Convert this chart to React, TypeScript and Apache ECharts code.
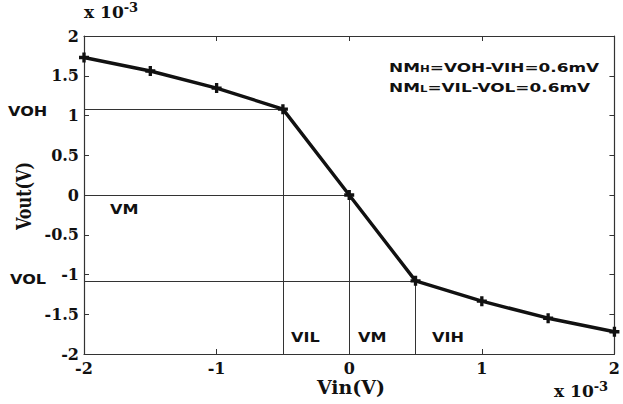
import React, { useEffect, useRef } from "react";
import * as echarts from "echarts";

// Input voltage (×10⁻³ V) and inverter output voltage (×10⁻³ V)
const vin = [-2, -1.5, -1, -0.5, 0, 0.5, 1, 1.5, 2];
const vout = [1.73, 1.56, 1.345, 1.08, 0, -1.08, -1.335, -1.55, -1.72];

// Characteristic points of the transfer curve
const VIL = -0.5;
const VIH = 0.5;
const VM = 0;
const VOH = 1.08;
const VOL = -1.08;
const XMIN = -2;
const YMIN = -2;

const SERIF = "'DejaVu Serif', 'Liberation Serif', serif";
const SANS = "'DejaVu Sans', Verdana, sans-serif";

const plus = "path://M3 0h3v3h3v3h-3v3h-3v-3h-3v-3h3z";

export default function App() {
  const ref = useRef<HTMLDivElement>(null);

  useEffect(() => {
    if (!ref.current) return;
    const chart = echarts.init(ref.current, null, { renderer: "svg" });
    const axisLine = { show: true, onZero: false, lineStyle: { color: "#333", width: 1.2 } };
    const tickIn = { show: true, inside: true, length: 5, lineStyle: { color: "#333" } };
    const tickLabel = {
      color: "#111",
      fontFamily: SERIF,
      fontWeight: "bold" as const,
      fontSize: 16,
    };
    const guide = { color: "#333", width: 1, type: "solid" as const };
    const expRich = {
      s: { fontSize: 13, fontFamily: SERIF, fontWeight: "bold", padding: [0, 0, 9, 0] },
    };

    chart.setOption({
      animation: false,
      backgroundColor: "#fff",
      grid: { left: 84, right: 2, top: 36, bottom: 50 },
      xAxis: [
        {
          type: "value",
          min: -2,
          max: 2,
          interval: 1,
          position: "bottom",
          axisLine,
          axisTick: tickIn,
          splitLine: { show: false },
          axisLabel: { ...tickLabel, margin: 6, formatter: (v: number) => String(v) },
        },
        {
          type: "value",
          min: -2,
          max: 2,
          interval: 1,
          position: "top",
          axisLine,
          axisTick: tickIn,
          splitLine: { show: false },
          axisLabel: { show: false },
        },
      ],
      yAxis: [
        {
          type: "value",
          min: -2,
          max: 2,
          interval: 0.5,
          position: "left",
          axisLine,
          axisTick: tickIn,
          splitLine: { show: false },
          axisLabel: { ...tickLabel, margin: 5, formatter: (v: number) => String(v) },
        },
        {
          type: "value",
          min: -2,
          max: 2,
          interval: 0.5,
          position: "right",
          axisLine,
          axisTick: tickIn,
          splitLine: { show: false },
          axisLabel: { show: false },
        },
      ],
      series: [
        {
          type: "line",
          data: vin.map((x, i) => [x, vout[i]]),
          symbol: plus,
          symbolSize: 10,
          showAllSymbol: true,
          itemStyle: { color: "#111" },
          lineStyle: { color: "#111", width: 3.4 },
          z: 5,
          markLine: {
            silent: true,
            symbol: "none",
            label: { show: false },
            lineStyle: guide,
            data: [
              [{ coord: [XMIN, VOH] }, { coord: [VIL, VOH] }],
              [{ coord: [XMIN, VM] }, { coord: [VM, VM] }],
              [{ coord: [XMIN, VOL] }, { coord: [VIH, VOL] }],
              [{ coord: [VIL, VOH] }, { coord: [VIL, YMIN] }],
              [{ coord: [VM, VM] }, { coord: [VM, YMIN] }],
              [{ coord: [VIH, VOL] }, { coord: [VIH, YMIN] }],
            ],
          },
        },
      ],
      graphic: [
        // scale factors on the axes
        {
          type: "text",
          left: 84,
          top: 1,
          style: { text: "x 10{s|-3}", rich: expRich, font: `bold 17px ${SERIF}`, fill: "#111" },
        },
        {
          type: "text",
          left: 554,
          top: 380,
          style: { text: "x 10{s|-3}", rich: expRich, font: `bold 17px ${SERIF}`, fill: "#111" },
        },
        // axis titles
        {
          type: "text",
          x: 351,
          y: 387,
          style: {
            text: "Vin(V)",
            font: `bold 19px ${SERIF}`,
            fill: "#111",
            align: "center",
            verticalAlign: "middle",
          },
        },
        {
          type: "text",
          x: 24,
          y: 196,
          rotation: Math.PI / 2,
          scaleX: 0.8,
          style: {
            text: "Vout(V)",
            font: `bold 20px ${SERIF}`,
            fill: "#111",
            align: "center",
            verticalAlign: "middle",
          },
        },
        // characteristic voltage labels
        ...[
          { t: "VOH", x: 8, y: 104 },
          { t: "VOL", x: 10, y: 272 },
          { t: "VM", x: 110, y: 202 },
          { t: "VIL", x: 291, y: 330 },
          { t: "VM", x: 358, y: 330 },
          { t: "VIH", x: 432, y: 330 },
        ].map((l) => ({
          type: "text",
          x: l.x,
          y: l.y,
          scaleX: 1.15,
          style: { text: l.t, font: `bold 14px ${SANS}`, fill: "#111" },
        })),
        // noise margins
        ...[
          { main: "NM", sub: "H", rest: "=VOH-VIH=0.6mV", y: 61 },
          { main: "NM", sub: "L", rest: "=VIL-VOL=0.6mV", y: 81 },
        ].map((n) => ({
          type: "text",
          x: 389,
          y: n.y,
          scaleX: 1.3,
          style: {
            text: `${n.main}{s|${n.sub}}${n.rest}`,
            font: `bold 13px ${SANS}`,
            fill: "#111",
            rich: { s: { fontSize: 9, fontFamily: SANS, fontWeight: "bold", padding: [3, 0, 0, 0] } },
          },
        })),
      ],
    });
    return () => chart.dispose();
  }, []);

  return (
    <div
      ref={ref}
      style={{ position: "fixed", left: 0, top: 0, width: 623, height: 404, background: "#fff" }}
    />
  );
}
